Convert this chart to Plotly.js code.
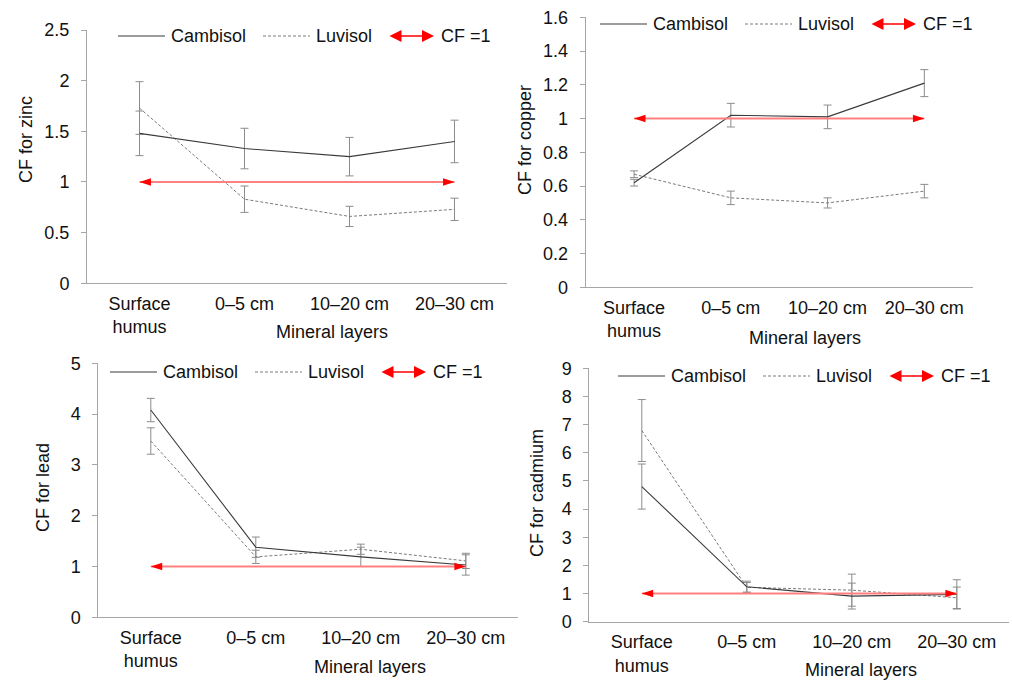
<!DOCTYPE html>
<html>
<head>
<meta charset="utf-8">
<script src="https://cdn.plot.ly/plotly-3.0.1.min.js"></script>
<style>html,body{margin:0;padding:0;background:#fff;}#chart{width:1012px;height:680px;}</style>
</head>
<body>
<div id="chart"></div>
<script>
// ---------- data ----------
const categories = ['Surface<br>humus', '0–5 cm', '10–20 cm', '20–30 cm'];
const seriesNames = ['Cambisol', 'Luvisol'];
const cfLabel = 'CF =1';
const cfValue = [1, 1];

const zincCambisol = [1.48, 1.33, 1.25, 1.40];
const zincCambisolErr = [0.22, 0.20, 0.19, 0.21];
const zincLuvisol = [1.73, 0.83, 0.66, 0.73];
const zincLuvisolErr = [0.26, 0.13, 0.10, 0.11];

const copperCambisol = [0.62, 1.02, 1.01, 1.21];
const copperCambisolErr = [0.02, 0.07, 0.07, 0.08];
const copperLuvisol = [0.67, 0.53, 0.50, 0.57];
const copperLuvisolErr = [0.02, 0.04, 0.03, 0.04];

const leadCambisol = [4.08, 1.38, 1.19, 1.03];
const leadCambisolErr = [0.23, 0.20, 0.19, 0.20];
const leadLuvisol = [3.47, 1.19, 1.34, 1.11];
const leadLuvisolErr = [0.26, 0.13, 0.10, 0.15];

const cadmiumCambisol = [4.80, 1.24, 0.91, 0.97];
const cadmiumCambisolErr = [0.80, 0.20, 0.46, 0.52];
const cadmiumLuvisol = [6.79, 1.22, 1.12, 0.85];
const cadmiumLuvisolErr = [1.10, 0.17, 0.57, 0.38];

const yTitles = ['CF for zinc', 'CF for copper', 'CF for lead', 'CF for cadmium'];
const xTitle = 'Mineral layers';
const yRanges = [[0, 2.5], [0, 1.6], [0, 5], [0, 9]];
const yDticks = [0.5, 0.2, 1, 1];

// ---------- layout geometry (pixels) ----------
const W = 1012, H = 680;
const panels = [
  {x0: 87, x1: 507, yTop: 30, yBot: 283.3, leg: [118, 36], xt: [332, 332], yt: [26, 140],
   cam: zincCambisol, camErr: zincCambisolErr, luv: zincLuvisol, luvErr: zincLuvisolErr},
  {x0: 585.7, x1: 972.7, yTop: 17.3, yBot: 287.3, leg: [600, 24], xt: [805, 338], yt: [525, 140],
   cam: copperCambisol, camErr: copperCambisolErr, luv: copperLuvisol, luvErr: copperLuvisolErr},
  {x0: 98.3, x1: 518.3, yTop: 363.3, yBot: 617.3, leg: [110, 372], xt: [370, 667], yt: [43, 488],
   cam: leadCambisol, camErr: leadCambisolErr, luv: leadLuvisol, luvErr: leadLuvisolErr},
  {x0: 589.3, x1: 1009.3, yTop: 368.3, yBot: 621.7, leg: [618, 376], xt: [861, 670], yt: [537, 493],
   cam: cadmiumCambisol, camErr: cadmiumCambisolErr, luv: cadmiumLuvisol, luvErr: cadmiumLuvisolErr}
];

const FONT = 'Liberation Sans, Arial, sans-serif';
const FS = 18;
const txtCol = '#111111';
const axisCol = '#a6a6a6';
const camCol = '#3a3a3a';
const luvCol = '#7a7a7a';
const errCol = '#8c8c8c';
const redLine = '#ff8080';
const red = '#ff0000';

const traces = [];
const layout = {
  width: W, height: H,
  margin: {l: 0, r: 0, t: 0, b: 0},
  paper_bgcolor: '#fff', plot_bgcolor: '#fff',
  font: {family: FONT, size: FS, color: txtCol},
  showlegend: false,
  annotations: [], shapes: []
};

panels.forEach((p, i) => {
  const n = i === 0 ? '' : String(i + 1);
  const xa = 'x' + n, ya = 'y' + n;
  layout['xaxis' + n] = {
    domain: [p.x0 / W, p.x1 / W], anchor: ya, type: 'category',
    range: [-0.5, 3.5], showline: true, linecolor: axisCol, linewidth: 1,
    ticks: '', showgrid: false, zeroline: false, fixedrange: true,
    tickfont: {family: FONT, size: FS, color: txtCol}, ticklabelstandoff: 4
  };
  layout['yaxis' + n] = {
    domain: [(H - p.yBot) / H, (H - p.yTop) / H], anchor: xa,
    range: yRanges[i], dtick: yDticks[i], tick0: 0,
    showline: true, linecolor: axisCol, linewidth: 1,
    ticks: 'outside', ticklen: 5, tickcolor: axisCol,
    showgrid: false, zeroline: false, fixedrange: true,
    tickfont: {family: FONT, size: FS, color: txtCol}, ticklabelstandoff: 8
  };
  traces.push({
    type: 'scatter', mode: 'lines', name: seriesNames[1], x: categories, y: p.luv,
    xaxis: xa, yaxis: ya,
    line: {color: luvCol, width: 1, dash: '3px,2px'},
    error_y: {type: 'data', array: p.luvErr, visible: true, color: errCol, thickness: 1, width: 4}
  });
  traces.push({
    type: 'scatter', mode: 'lines', name: seriesNames[0], x: categories, y: p.cam,
    xaxis: xa, yaxis: ya,
    line: {color: camCol, width: 1.1},
    error_y: {type: 'data', array: p.camErr, visible: true, color: errCol, thickness: 1, width: 4}
  });
  traces.push({
    type: 'scatter', mode: 'lines+markers', name: cfLabel,
    x: [categories[0], categories[categories.length - 1]], y: cfValue,
    xaxis: xa, yaxis: ya,
    line: {color: redLine, width: 2},
    marker: {symbol: 'arrow', size: 12, color: red, angle: [-90, 90], line: {width: 0}}
  });

  // axis titles
  layout.annotations.push({
    xref: 'paper', yref: 'paper', x: p.xt[0] / W, y: (H - p.xt[1]) / H,
    text: xTitle, showarrow: false, xanchor: 'center', yanchor: 'middle',
    font: {family: FONT, size: FS, color: txtCol}
  });
  layout.annotations.push({
    xref: 'paper', yref: 'paper', x: p.yt[0] / W, y: (H - p.yt[1]) / H,
    text: yTitles[i], showarrow: false, textangle: -90, xanchor: 'center', yanchor: 'middle',
    font: {family: FONT, size: FS, color: txtCol}
  });

  // legend (manual, inside the plot top)
  const lx = p.leg[0], ly = (H - p.leg[1]) / H;
  layout.shapes.push({type: 'line', xref: 'paper', yref: 'paper',
    x0: lx / W, x1: (lx + 47) / W, y0: ly, y1: ly, line: {color: camCol, width: 1.1}});
  layout.shapes.push({type: 'line', xref: 'paper', yref: 'paper',
    x0: (lx + 145) / W, x1: (lx + 192) / W, y0: ly, y1: ly, line: {color: luvCol, width: 1, dash: '3px,2px'}});
  layout.annotations.push({xref: 'paper', yref: 'paper', x: (lx + 51) / W, y: ly, text: seriesNames[0],
    showarrow: false, xanchor: 'left', yanchor: 'middle', font: {family: FONT, size: FS, color: txtCol}});
  layout.annotations.push({xref: 'paper', yref: 'paper', x: (lx + 196) / W, y: ly, text: seriesNames[1],
    showarrow: false, xanchor: 'left', yanchor: 'middle', font: {family: FONT, size: FS, color: txtCol}});
  layout.annotations.push({xref: 'paper', yref: 'paper', x: (lx + 321) / W, y: ly, text: cfLabel,
    showarrow: false, xanchor: 'left', yanchor: 'middle', font: {family: FONT, size: FS, color: txtCol}});
  layout.annotations.push({xref: 'paper', yref: 'paper', x: (lx + 316) / W, y: ly,
    ax: -46, ay: 0, text: '', showarrow: true, arrowside: 'end+start', arrowhead: 2,
    arrowsize: 1.6, arrowwidth: 1.5, arrowcolor: red});
});

Plotly.newPlot('chart', traces, layout, {staticPlot: true, displayModeBar: false});
</script>
</body>
</html>
